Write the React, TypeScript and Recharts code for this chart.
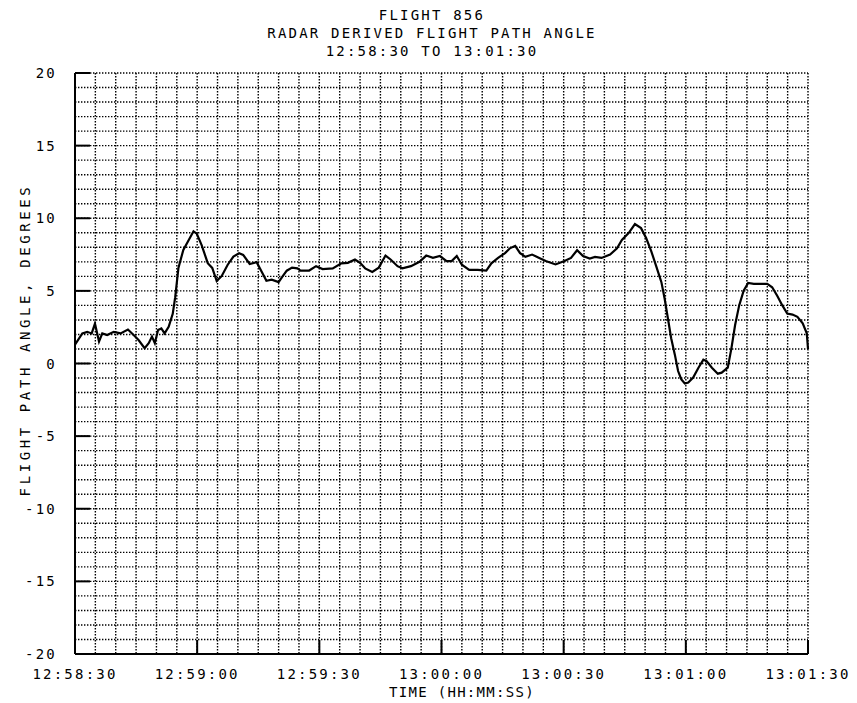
import { LineChart, Line, XAxis, YAxis, CartesianGrid } from "recharts";

// seconds after 12:58:30
const seconds = [
  0, 1.8, 3, 4.1, 4.9, 5.9, 6.7, 7.9, 9.5, 11.2, 13, 14.4, 15.6, 17.1, 18.1, 18.9, 19.6, 20.4, 21.2, 22,
  23, 24, 24.6, 25.4, 26.6, 27.7, 29.1, 29.9, 31.1, 32.6, 33.7, 34.8, 36, 37.5, 38.9, 40.3, 41.3, 42.9,
  44.6, 46.2, 47, 48.3, 50, 50.8, 52, 53.3, 54.6, 55.4, 57.5, 59.2, 60.8, 63.3, 65.4, 67, 68.75, 70,
  71.25, 73, 74.6, 76.25, 77.5, 79.2, 80.4, 82.5, 84.6, 86.25, 87.9, 89.6, 91.25, 92.5, 93.75, 95,
  96.8, 98.9, 101, 102.25, 103.9, 105.6, 106.8, 108.1, 109.3, 110.6, 112.25, 114, 115.6, 118, 120.2,
  121.8, 123.3, 124.75, 126.4, 127.7, 129.3, 131.4, 133.1, 134.3, 136, 137.5, 139, 140.25, 141.5,
  142.7, 144, 144.8, 145.6, 146.4, 147.3, 148.1, 148.9, 149.75, 150.6, 151.8, 153.1, 154.3, 155.1,
  156.4, 157.85, 158.8, 160.3, 161.2, 162.1, 163.1, 164.2, 165.3, 166.7, 168.3, 170, 171.2, 172.4,
  173.7, 174.9, 176.2, 177.4, 178.7, 179.7, 180,
];

const angles = [
  1.3, 2.07, 2.18, 2.07, 2.75, 1.51, 2.07, 1.96, 2.18, 2.07, 2.34, 1.96, 1.62, 1.06, 1.4, 1.85, 1.4, 2.3, 2.41, 2.07,
  2.52, 3.42, 4.55, 6.58, 7.82, 8.38, 9.1, 8.94, 8.15, 6.91, 6.58, 5.68, 6.01, 6.8, 7.36, 7.59, 7.48, 6.85,
  6.98, 6.13, 5.7, 5.77, 5.6, 5.93, 6.39, 6.6, 6.55, 6.4, 6.4, 6.7, 6.5, 6.55, 6.9, 6.93, 7.16, 6.93,
  6.55, 6.3, 6.6, 7.43, 7.16, 6.7, 6.55, 6.7, 7.0, 7.43, 7.27, 7.4, 7.05, 7.05, 7.4, 6.8,
  6.45, 6.45, 6.4, 6.9, 7.27, 7.6, 7.93, 8.1, 7.6, 7.34, 7.5, 7.27, 7.05, 6.82, 7.05,
  7.27, 7.8, 7.4, 7.23, 7.34, 7.27, 7.5, 7.93, 8.5, 9.0, 9.6, 9.32, 8.64, 7.74,
  6.72, 5.6, 4.46, 3.1, 1.74, 0.61, -0.52, -1.09, -1.38, -1.31, -0.97, -0.29, 0.27, 0.16,
  -0.29, -0.7, -0.63, -0.29, 1.06, 2.65, 4.0, 5.02, 5.54, 5.48, 5.48, 5.48, 5.25, 4.68,
  4.0, 3.44, 3.37, 3.21, 2.76, 2.08, 1.0,
];

const majorSeconds = [0, 30, 60, 90, 120, 150, 180];
const timeLabels = ["12:58:30", "12:59:00", "12:59:30", "13:00:00", "13:00:30", "13:01:00", "13:01:30"];
const majorDegrees = [-20, -15, -10, -5, 0, 5, 10, 15, 20];

const gridSeconds = Array.from({ length: 37 }, (_, i) => i * 5);
const gridDegrees = Array.from({ length: 41 }, (_, i) => i - 20);

const data = seconds.map((t, i) => ({ t, angle: angles[i] }));

const FONT = "'DejaVu Sans Mono', monospace";
const textStyle = { fontFamily: FONT, fontSize: 14, letterSpacing: 2.2, fill: "#000" };

const TimeTick = (props: any) => {
  const { x, y, payload } = props;
  const i = majorSeconds.indexOf(payload.value);
  if (i < 0) return <g />;
  return (
    <g>
      <line x1={x} x2={x} y1={y} y2={y - 14} stroke="#000" strokeWidth={2} />
      <text x={x} y={y + 25} textAnchor="middle" style={textStyle}>
        {timeLabels[i]}
      </text>
    </g>
  );
};

const AngleTick = (props: any) => {
  const { x, y, payload } = props;
  if (!majorDegrees.includes(payload.value)) return <g />;
  return (
    <g>
      <line x1={x} x2={x + 15} y1={y} y2={y} stroke="#000" strokeWidth={2} />
      <text x={x - 18} y={y + 5} textAnchor="end" style={textStyle}>
        {payload.value}
      </text>
    </g>
  );
};

export default function App() {
  return (
    <div style={{ position: "absolute", left: 0, top: 0, width: 857, height: 703, background: "#fff" }}>
      <LineChart width={857} height={703} data={data} margin={{ top: 73, right: 49, bottom: 0, left: 0 }}>
        <CartesianGrid stroke="#000" strokeWidth={1.4} strokeDasharray="1.4 1.6" />
        <XAxis
          dataKey="t"
          type="number"
          domain={[0, 180]}
          ticks={gridSeconds}
          interval={0}
          tickSize={0}
          tickMargin={0}
          tick={<TimeTick />}
          height={49}
          axisLine={{ stroke: "#000", strokeWidth: 2 }}
          tickLine={false}
        />
        <XAxis
          xAxisId="top"
          orientation="top"
          type="number"
          domain={[0, 180]}
          height={0}
          tick={false}
          tickLine={false}
          axisLine={{ stroke: "#000", strokeWidth: 2 }}
        />
        <YAxis
          type="number"
          domain={[-20, 20]}
          ticks={gridDegrees}
          interval={0}
          tickSize={0}
          tickMargin={0}
          tick={<AngleTick />}
          width={75}
          axisLine={{ stroke: "#000", strokeWidth: 2 }}
          tickLine={false}
        />
        <YAxis
          yAxisId="right"
          orientation="right"
          type="number"
          domain={[-20, 20]}
          width={0}
          tick={false}
          tickLine={false}
          axisLine={{ stroke: "#000", strokeWidth: 2 }}
        />
        <Line
          dataKey="angle"
          stroke="#000"
          strokeWidth={2.2}
          dot={false}
          type="linear"
          isAnimationActive={false}
        />
        <text x={432} y={20} textAnchor="middle" style={textStyle}>FLIGHT 856</text>
        <text x={432} y={38} textAnchor="middle" style={textStyle}>RADAR DERIVED FLIGHT PATH ANGLE</text>
        <text x={432} y={56} textAnchor="middle" style={textStyle}>12:58:30 TO 13:01:30</text>
        <text x={462} y={697} textAnchor="middle" style={{ ...textStyle, letterSpacing: 1.3 }}>
          TIME (HH:MM:SS)
        </text>
        <text
          x={25}
          y={340}
          textAnchor="middle"
          dominantBaseline="central"
          transform="rotate(-90 25 340)"
          style={{ ...textStyle, letterSpacing: 3.6 }}
        >
          FLIGHT PATH ANGLE, DEGREES
        </text>
      </LineChart>
    </div>
  );
}
